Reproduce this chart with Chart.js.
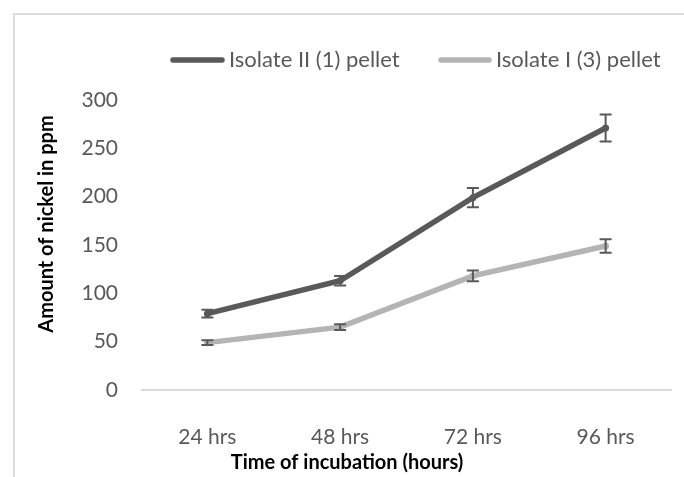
<!DOCTYPE html>
<html>
<head>
<meta charset="utf-8">
<script src="https://cdn.jsdelivr.net/npm/chart.js@4.4.0/dist/chart.umd.min.js"></script>
<style>
  html, body { margin: 0; padding: 0; background: #fff; }
  #wrap { position: relative; width: 684px; height: 477px; overflow: hidden; }
  #frame { position: absolute; left: 13px; top: 13px; width: 720px; height: 520px;
           border-left: 2px solid #dcdcdc; border-top: 2px solid #dcdcdc; box-sizing: border-box; }
  canvas { position: absolute; left: 0; top: 0; }
</style>
</head>
<body>
<div id="wrap">
  <div id="frame"></div>
  <canvas id="c" width="684" height="477"></canvas>
</div>
<script>
const categories = ["24 hrs", "48 hrs", "72 hrs", "96 hrs"];
const seriesNames = ["Isolate II (1) pellet", "Isolate I (3) pellet"];
const isolateII = [79, 113, 199, 271];
const isolateI = [49, 65, 118, 149];
const errorsII = [4, 5, 10, 14];
const errorsI = [2.5, 3, 5.5, 7];
const yTicks = [0, 50, 100, 150, 200, 250, 300];
const xTitle = "Time of incubation (hours)";
const yTitle = "Amount of nickel in ppm";

const FONT = "Lato";
const DARK = "#595959";
const LIGHT = "#b4b4b4";

const errorBars = {
  id: "errorBars",
  afterDatasetsDraw(chart) {
    const ctx = chart.ctx;
    const y = chart.scales.y;
    ctx.save();
    ctx.strokeStyle = DARK;
    ctx.lineWidth = 2;
    chart.data.datasets.forEach((ds, i) => {
      const meta = chart.getDatasetMeta(i);
      meta.data.forEach((pt, j) => {
        const v = ds.data[j], e = ds.errors[j];
        const top = y.getPixelForValue(v + e), bot = y.getPixelForValue(v - e);
        const x = pt.x;
        ctx.beginPath();
        ctx.moveTo(x, top); ctx.lineTo(x, bot);
        ctx.moveTo(x - 6, top); ctx.lineTo(x + 6, top);
        ctx.moveTo(x - 6, bot); ctx.lineTo(x + 6, bot);
        ctx.stroke();
      });
    });
    ctx.restore();
  }
};

const customText = {
  id: "customText",
  afterDraw(chart) {
    const ctx = chart.ctx;
    ctx.save();
    // legend
    const legendPos = [[170, 229], [438, 496]];
    ctx.font = "22px " + FONT;
    ctx.textBaseline = "middle";
    chart.data.datasets.forEach((ds, i) => {
      const [lx, tx] = legendPos[i];
      ctx.strokeStyle = ds.borderColor;
      ctx.lineWidth = 5.5;
      ctx.lineCap = "round";
      ctx.beginPath();
      ctx.moveTo(lx + 3, 60); ctx.lineTo(tx - 7, 60);
      ctx.stroke();
      ctx.fillStyle = DARK;
      ctx.textAlign = "left";
      ctx.fillText(ds.label, tx, 60);
    });
    // axis titles
    ctx.fillStyle = "#000";
    ctx.font = "bold 20px " + FONT;
    ctx.textAlign = "center";
    ctx.fillText(xTitle, 347, 463);
    ctx.translate(47, 224);
    ctx.rotate(-Math.PI / 2);
    ctx.fillText(yTitle, 0, 0);
    ctx.restore();
  }
};

new Chart(document.getElementById("c"), {
  type: "line",
  data: {
    labels: categories,
    datasets: [
      { label: seriesNames[0], data: isolateII, errors: errorsII, borderColor: DARK, backgroundColor: DARK,
        borderWidth: 5.5, pointRadius: 3.5, pointBorderWidth: 0, pointBackgroundColor: DARK, tension: 0 },
      { label: seriesNames[1], data: isolateI, errors: errorsI, borderColor: LIGHT, backgroundColor: LIGHT,
        borderWidth: 5.5, pointRadius: 3.5, pointBorderWidth: 0, pointBackgroundColor: LIGHT, tension: 0 }
    ]
  },
  options: {
    responsive: false,
    animation: false,
    layout: { padding: { top: 100, right: 12, left: 0, bottom: 0 } },
    plugins: { legend: { display: false }, title: { display: false }, tooltip: { enabled: false } },
    scales: {
      x: {
        offset: true,
        grid: { display: false },
        border: { display: false },
        ticks: { color: DARK, font: { family: FONT, size: 21 }, padding: 27 },
        afterFit(s) { s.height = 87; }
      },
      y: {
        min: 0, max: 300,
        afterBuildTicks(s) { s.ticks = yTicks.map(v => ({ value: v })); },
        grid: { drawTicks: false, lineWidth: 2, color: c => c.tick && c.tick.value === 0 ? "#d9d9d9" : "rgba(0,0,0,0)" },
        border: { display: false },
        ticks: { color: DARK, font: { family: FONT, size: 21 }, padding: 23 },
        afterFit(s) { s.width = 141; }
      }
    }
  },
  plugins: [errorBars, customText]
});
</script>
</body>
</html>
